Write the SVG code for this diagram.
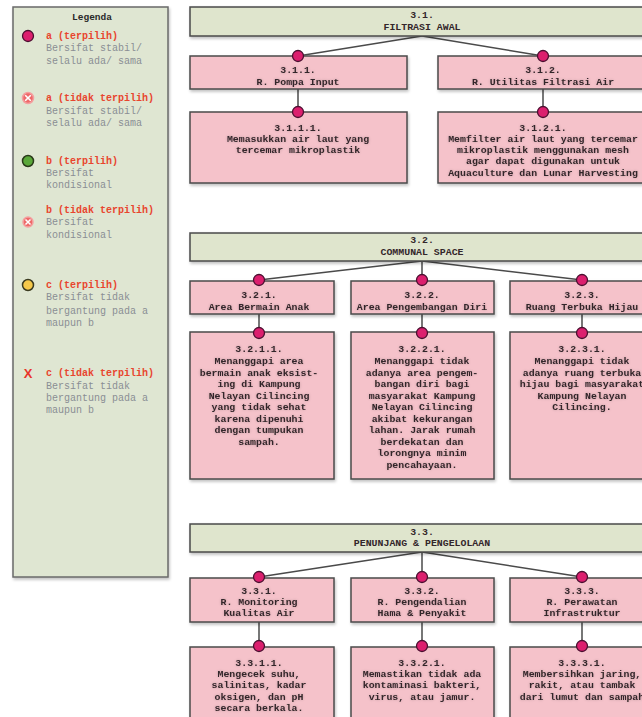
<svg xmlns="http://www.w3.org/2000/svg" width="642" height="717" viewBox="0 0 642 717">
<defs>
<style>
.hdr{fill:#dfe5cd;stroke:#4a4a4a;stroke-width:1.5}
.box{fill:#f5c2ca;stroke:#4a4a4a;stroke-width:1.5}
.t{font-family:"Liberation Mono","Courier New",monospace;font-size:9.9px;font-weight:bold;fill:#33262a;text-anchor:middle}
.dot{fill:#dc1f6e;stroke:#4a1030;stroke-width:1.3}
.con{stroke:#4a4a4a;stroke-width:1.5;fill:none}
.lt{font-family:"Liberation Mono","Courier New",monospace;font-size:10px;fill:#e8452e;font-weight:bold}
.ld{font-family:"Liberation Mono","Courier New",monospace;font-size:10px;fill:#8a8e94}
</style>
<filter id="sh" x="-10%" y="-10%" width="120%" height="130%">
<feGaussianBlur in="SourceAlpha" stdDeviation="1.5"/>
<feOffset dx="1" dy="1.5" result="b"/>
<feComponentTransfer><feFuncA type="linear" slope="0.25"/></feComponentTransfer>
<feMerge><feMergeNode/><feMergeNode in="SourceGraphic"/></feMerge>
</filter>
<filter id="glow" x="-10%" y="-20%" width="120%" height="140%">
<feGaussianBlur in="SourceAlpha" stdDeviation="1.6"/>
<feComponentTransfer><feFuncA type="linear" slope="0.22"/></feComponentTransfer>
<feMerge><feMergeNode/><feMergeNode in="SourceGraphic"/></feMerge>
</filter>
</defs>
<rect width="642" height="717" fill="#ffffff"/>

<g id="legend">
<rect x="13" y="7" width="155" height="570" fill="#dfe6d2" stroke="#6a6a6a" stroke-width="1.5" filter="url(#sh)"/>
<text x="92" y="20" style="font-family:'Liberation Mono','Courier New',monospace;font-size:9.5px;font-weight:bold;fill:#2a2a2a;text-anchor:middle">Legenda</text>
<circle cx="28" cy="36" r="5.5" class="dot"/>
<text x="46" y="38.5" class="lt">a (terpilih)</text>
<text x="46" y="51" class="ld">Bersifat stabil/</text>
<text x="46" y="64" class="ld">selalu ada/ sama</text>

<circle cx="28" cy="98" r="5.5" fill="#ee6a6a" stroke="#f4a0a0" stroke-width="1.5"/>
<path d="M25.2 95.2 L30.8 100.8 M30.8 95.2 L25.2 100.8" stroke="#ffffff" stroke-width="1.6"/>
<text x="46" y="101" class="lt">a (tidak terpilih)</text>
<text x="46" y="114" class="ld">Bersifat stabil/</text>
<text x="46" y="126" class="ld">selalu ada/ sama</text>

<circle cx="28" cy="161" r="5.5" fill="#5aa83a" stroke="#2a3a1a" stroke-width="1.5"/>
<text x="46" y="164" class="lt">b (terpilih)</text>
<text x="46" y="176" class="ld">Bersifat</text>
<text x="46" y="188" class="ld">kondisional</text>

<text x="46" y="213" class="lt">b (tidak terpilih)</text>
<circle cx="28" cy="222" r="5" fill="#ee6a6a" stroke="#f4a0a0" stroke-width="1.5"/>
<path d="M25.5 219.5 L30.5 224.5 M30.5 219.5 L25.5 224.5" stroke="#ffffff" stroke-width="1.5"/>
<text x="46" y="225" class="ld">Bersifat</text>
<text x="46" y="238" class="ld">kondisional</text>

<circle cx="28" cy="285" r="5.5" fill="#f5c84a" stroke="#3a3a20" stroke-width="1.5"/>
<text x="46" y="288" class="lt">c (terpilih)</text>
<text x="46" y="300" class="ld">Bersifat tidak</text>
<text x="46" y="314" class="ld">bergantung pada a</text>
<text x="46" y="326" class="ld">maupun b</text>

<text x="28" y="377.5" style="font-family:'Liberation Sans',Arial,sans-serif;font-size:13px;font-weight:bold;fill:#e8352a;text-anchor:middle">X</text>
<text x="46" y="376" class="lt">c (tidak terpilih)</text>
<text x="46" y="389" class="ld">Bersifat tidak</text>
<text x="46" y="401" class="ld">bergantung pada a</text>
<text x="46" y="413" class="ld">maupun b</text>
</g>

<g id="connectors">
<line x1="422" y1="36" x2="298" y2="56" class="con"/>
<line x1="422" y1="36" x2="543" y2="56" class="con"/>
<line x1="298" y1="89" x2="298" y2="112" class="con"/>
<line x1="543" y1="89" x2="543" y2="112" class="con"/>

<line x1="422" y1="261" x2="259" y2="280" class="con"/>
<line x1="422" y1="261" x2="422" y2="280" class="con"/>
<line x1="422" y1="261" x2="582" y2="280" class="con"/>
<line x1="259" y1="314" x2="259" y2="333" class="con"/>
<line x1="422" y1="314" x2="422" y2="333" class="con"/>
<line x1="582" y1="314" x2="582" y2="333" class="con"/>

<line x1="422" y1="552" x2="259" y2="577" class="con"/>
<line x1="422" y1="552" x2="422" y2="577" class="con"/>
<line x1="422" y1="552" x2="582" y2="577" class="con"/>
<line x1="259" y1="622" x2="259" y2="646" class="con"/>
<line x1="422" y1="622" x2="422" y2="646" class="con"/>
<line x1="582" y1="622" x2="582" y2="646" class="con"/>
</g>

<g id="n3_1">
<rect x="190" y="7" width="470" height="29" class="hdr" filter="url(#sh)"/>
<text x="422" y="17.5" class="t">3.1.</text>
<text x="422" y="29.5" class="t">FILTRASI AWAL</text>
</g>
<g id="n3_1_1">
<rect x="190" y="56" width="217" height="33" class="box" filter="url(#sh)"/>
<circle cx="298" cy="56" r="5.5" class="dot"/>
<g filter="url(#glow)"><text x="298" y="72.5" class="t">3.1.1.</text>
<text x="298" y="84.5" class="t">R. Pompa Input</text></g>
</g>
<g id="n3_1_2">
<rect x="438" y="56" width="222" height="33" class="box" filter="url(#sh)"/>
<circle cx="543" cy="56" r="5.5" class="dot"/>
<g filter="url(#glow)"><text x="543" y="72.5" class="t">3.1.2.</text>
<text x="543" y="84.5" class="t">R. Utilitas Filtrasi Air</text></g>
</g>
<g id="n3_1_1_1">
<rect x="190" y="112" width="217" height="71" class="box" filter="url(#sh)"/>
<circle cx="298" cy="112" r="5.5" class="dot"/>
<g filter="url(#glow)"><text x="298" y="130.5" class="t">3.1.1.1.</text>
<text x="298" y="141.5" class="t">Memasukkan air laut yang</text>
<text x="298" y="152.5" class="t">tercemar mikroplastik</text></g>
</g>
<g id="n3_1_2_1">
<rect x="438" y="112" width="222" height="71" class="box" filter="url(#sh)"/>
<circle cx="543" cy="112" r="5.5" class="dot"/>
<g filter="url(#glow)"><text x="543" y="130.5" class="t">3.1.2.1.</text>
<text x="543" y="141.5" class="t">Memfilter air laut yang tercemar</text>
<text x="543" y="152.5" class="t">mikroplastik menggunakan mesh</text>
<text x="543" y="164" class="t">agar dapat digunakan untuk</text>
<text x="543" y="175.5" class="t">Aquaculture dan Lunar Harvesting</text></g>
</g>

<g id="n3_2">
<rect x="190" y="233" width="470" height="28" class="hdr" filter="url(#sh)"/>
<text x="422" y="242.5" class="t">3.2.</text>
<text x="422" y="254.5" class="t">COMMUNAL SPACE</text>
</g>
<g id="n3_2_1">
<rect x="190" y="281" width="144" height="33" class="box" filter="url(#sh)"/>
<circle cx="259" cy="280" r="5.5" class="dot"/>
<g filter="url(#glow)"><text x="259" y="297.5" class="t">3.2.1.</text>
<text x="259" y="309.5" class="t">Area Bermain Anak</text></g>
</g>
<g id="n3_2_2">
<rect x="351" y="281" width="143" height="33" class="box" filter="url(#sh)"/>
<circle cx="422" cy="280" r="5.5" class="dot"/>
<g filter="url(#glow)"><text x="422" y="297.5" class="t">3.2.2.</text>
<text x="422" y="309.5" class="t">Area Pengembangan Diri</text></g>
</g>
<g id="n3_2_3">
<rect x="510" y="281" width="150" height="33" class="box" filter="url(#sh)"/>
<circle cx="582" cy="280" r="5.5" class="dot"/>
<g filter="url(#glow)"><text x="582" y="297.5" class="t">3.2.3.</text>
<text x="582" y="309.5" class="t">Ruang Terbuka Hijau</text></g>
</g>
<g id="n3_2_1_1">
<rect x="190" y="332" width="144" height="147" class="box" filter="url(#sh)"/>
<circle cx="259" cy="333" r="5.5" class="dot"/>
<g filter="url(#glow)"><text x="259" y="351.5" class="t">3.2.1.1.</text>
<text x="259" y="364" class="t">Menanggapi area</text>
<text x="259" y="375.5" class="t">bermain anak eksist-</text>
<text x="259" y="387" class="t">ing di Kampung</text>
<text x="259" y="398.5" class="t">Nelayan Cilincing</text>
<text x="259" y="410" class="t">yang tidak sehat</text>
<text x="259" y="421.5" class="t">karena dipenuhi</text>
<text x="259" y="433" class="t">dengan tumpukan</text>
<text x="259" y="444.5" class="t">sampah.</text></g>
</g>
<g id="n3_2_2_1">
<rect x="351" y="332" width="143" height="147" class="box" filter="url(#sh)"/>
<circle cx="422" cy="333" r="5.5" class="dot"/>
<g filter="url(#glow)"><text x="422" y="351.5" class="t">3.2.2.1.</text>
<text x="422" y="364" class="t">Menanggapi tidak</text>
<text x="422" y="375.5" class="t">adanya area pengem-</text>
<text x="422" y="387" class="t">bangan diri bagi</text>
<text x="422" y="398.5" class="t">masyarakat Kampung</text>
<text x="422" y="410" class="t">Nelayan Cilincing</text>
<text x="422" y="421.5" class="t">akibat kekurangan</text>
<text x="422" y="433" class="t">lahan. Jarak rumah</text>
<text x="422" y="444.5" class="t">berdekatan dan</text>
<text x="422" y="456" class="t">lorongnya minim</text>
<text x="422" y="467.5" class="t">pencahayaan.</text></g>
</g>
<g id="n3_2_3_1">
<rect x="510" y="332" width="150" height="147" class="box" filter="url(#sh)"/>
<circle cx="582" cy="333" r="5.5" class="dot"/>
<g filter="url(#glow)"><text x="582" y="351.5" class="t">3.2.3.1.</text>
<text x="582" y="364" class="t">Menanggapi tidak</text>
<text x="582" y="375.5" class="t">adanya ruang terbuka</text>
<text x="582" y="387" class="t">hijau bagi masyarakat</text>
<text x="582" y="398.5" class="t">Kampung Nelayan</text>
<text x="582" y="410" class="t">Cilincing.</text></g>
</g>

<g id="n3_3">
<rect x="190" y="524" width="470" height="28" class="hdr" filter="url(#sh)"/>
<text x="422" y="534.5" class="t">3.3.</text>
<text x="422" y="545.5" class="t">PENUNJANG &amp; PENGELOLAAN</text>
</g>
<g id="n3_3_1">
<rect x="190" y="578" width="144" height="44" class="box" filter="url(#sh)"/>
<circle cx="259" cy="577" r="5.5" class="dot"/>
<g filter="url(#glow)"><text x="259" y="593.5" class="t">3.3.1.</text>
<text x="259" y="604.5" class="t">R. Monitoring</text>
<text x="259" y="615.5" class="t">Kualitas Air</text></g>
</g>
<g id="n3_3_2">
<rect x="351" y="578" width="143" height="44" class="box" filter="url(#sh)"/>
<circle cx="422" cy="577" r="5.5" class="dot"/>
<g filter="url(#glow)"><text x="422" y="593.5" class="t">3.3.2.</text>
<text x="422" y="604.5" class="t">R. Pengendalian</text>
<text x="422" y="615.5" class="t">Hama &amp; Penyakit</text></g>
</g>
<g id="n3_3_3">
<rect x="510" y="578" width="150" height="44" class="box" filter="url(#sh)"/>
<circle cx="582" cy="577" r="5.5" class="dot"/>
<g filter="url(#glow)"><text x="582" y="593.5" class="t">3.3.3.</text>
<text x="582" y="604.5" class="t">R. Perawatan</text>
<text x="582" y="615.5" class="t">Infrastruktur</text></g>
</g>
<g id="n3_3_1_1">
<rect x="190" y="647" width="144" height="80" class="box" filter="url(#sh)"/>
<circle cx="259" cy="646" r="5.5" class="dot"/>
<g filter="url(#glow)"><text x="259" y="665.5" class="t">3.3.1.1.</text>
<text x="259" y="676.5" class="t">Mengecek suhu,</text>
<text x="259" y="688" class="t">salinitas, kadar</text>
<text x="259" y="699.5" class="t">oksigen, dan pH</text>
<text x="259" y="710.5" class="t">secara berkala.</text></g>
</g>
<g id="n3_3_2_1">
<rect x="351" y="647" width="143" height="80" class="box" filter="url(#sh)"/>
<circle cx="422" cy="646" r="5.5" class="dot"/>
<g filter="url(#glow)"><text x="422" y="665.5" class="t">3.3.2.1.</text>
<text x="422" y="676.5" class="t">Memastikan tidak ada</text>
<text x="422" y="688" class="t">kontaminasi bakteri,</text>
<text x="422" y="699.5" class="t">virus, atau jamur.</text></g>
</g>
<g id="n3_3_3_1">
<rect x="510" y="647" width="150" height="80" class="box" filter="url(#sh)"/>
<circle cx="582" cy="646" r="5.5" class="dot"/>
<g filter="url(#glow)"><text x="582" y="665.5" class="t">3.3.3.1.</text>
<text x="582" y="676.5" class="t">Membersihkan jaring,</text>
<text x="582" y="688" class="t">rakit, atau tambak</text>
<text x="582" y="699.5" class="t">dari lumut dan sampah</text></g>
</g>
</svg>
